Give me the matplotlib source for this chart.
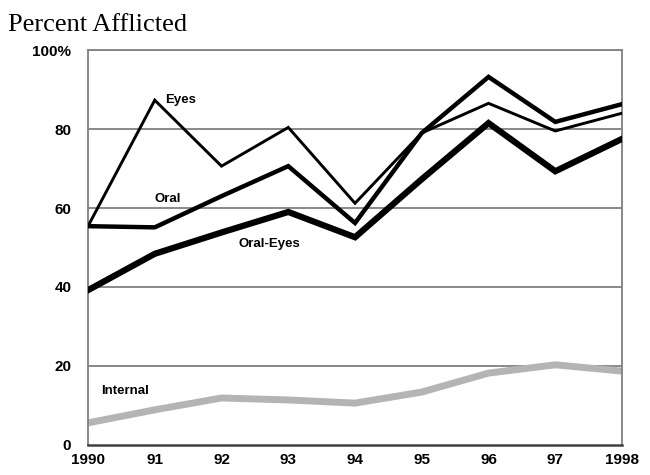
import matplotlib
matplotlib.use('Agg')
import matplotlib.pyplot as plt

# values
years = [1990, 1991, 1992, 1993, 1994, 1995, 1996, 1997, 1998]
year_labels = ['1990', '91', '92', '93', '94', '95', '96', '97', '1998']
eyes = [55.4, 87.3, 70.6, 80.4, 61.2, 79.0, 86.5, 79.5, 84.0]
oral = [55.4, 55.1, 63.0, 70.6, 56.2, 79.0, 93.2, 81.8, 86.3]
oral_eyes = [39.2, 48.4, 53.8, 59.0, 52.6, 67.3, 81.5, 69.3, 77.5]
internal = [5.6, 8.9, 11.9, 11.4, 10.6, 13.4, 18.2, 20.3, 18.7]
y_ticks = [0, 20, 40, 60, 80, 100]
y_labels = ['0', '20', '40', '60', '80', '100%']

fig = plt.figure(figsize=(6.5, 4.75), dpi=100)
ax = fig.add_axes([0.1354, 0.0632, 0.8216, 0.8315])

for yv in [20, 40, 60, 80, 100]:
    ax.axhline(yv, color='#808080', lw=1.3, zorder=1)

ax.plot(years, internal, color='#b4b4b4', lw=5.0, zorder=2, solid_capstyle='butt')
ax.plot(years, oral_eyes, color='black', lw=4.5, zorder=3, solid_joinstyle='miter')
ax.plot(years, oral, color='black', lw=3.2, zorder=4, solid_joinstyle='miter')
ax.plot(years, eyes, color='black', lw=2.1, zorder=5, solid_joinstyle='miter')

lab = dict(fontsize=9.5, fontweight='bold', family='Liberation Sans', va='center', ha='left')
ax.text(1991.15, 87.3, 'Eyes', **lab)
ax.text(1991.0, 62.4, 'Oral', **lab)
ax.text(1992.25, 50.8, 'Oral-Eyes', **lab)
ax.text(1990.2, 13.7, 'Internal', **lab)

ax.set_xlim(1990, 1998)
ax.set_ylim(0, 100)
ax.set_xticks(years)
ax.set_xticklabels(year_labels)
ax.set_yticks(y_ticks)
ax.set_yticklabels(y_labels)
ax.tick_params(length=0, labelsize=11, pad=6)
ax.tick_params(axis='y', pad=12)
for t in ax.get_xticklabels() + ax.get_yticklabels():
    t.set_fontweight('bold')
    t.set_family('Liberation Sans')

for side in ['left', 'right', 'top']:
    ax.spines[side].set_color('#808080')
    ax.spines[side].set_linewidth(1.3)
ax.spines['bottom'].set_color('#404040')
ax.spines['bottom'].set_linewidth(1.8)

fig.text(0.012, 0.935, 'Percent Afflicted', family='Liberation Serif', fontsize=19, ha='left', va='baseline')

fig.savefig('out.png', dpi=100)
